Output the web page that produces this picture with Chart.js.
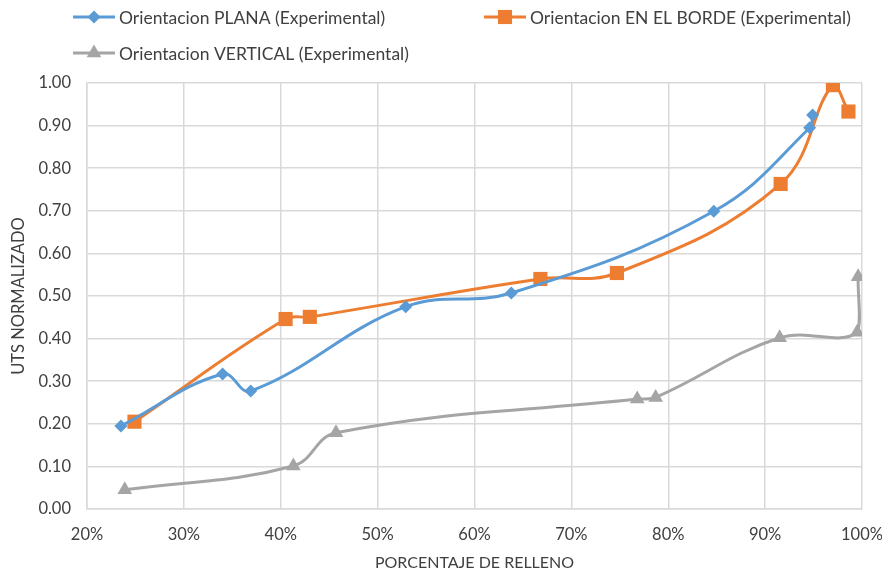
<!DOCTYPE html>
<html>
<head>
<meta charset="utf-8">
<script src="https://cdn.jsdelivr.net/npm/chart.js@4/dist/chart.umd.min.js"></script>
<style>
  html, body { margin: 0; padding: 0; background: #ffffff; }
  #wrap { width: 882px; height: 576px; position: relative; }
</style>
</head>
<body>
<div id="wrap"><canvas id="c"></canvas></div>
<script>
// Porcentaje de relleno (%) y UTS normalizado por orientación de impresión
const planaX = [23.5, 34.0, 36.9, 52.9, 63.8, 84.7, 94.6, 94.9];
const planaY = [0.195, 0.317, 0.277, 0.475, 0.507, 0.699, 0.895, 0.925];

const bordeX = [24.9, 40.5, 43.0, 66.8, 74.7, 91.6, 97.0, 98.6];
const bordeY = [0.205, 0.446, 0.451, 0.540, 0.554, 0.763, 0.995, 0.933];

const verticalX = [23.9, 41.3, 45.7, 76.8, 78.7, 91.5, 99.5, 99.6];
const verticalY = [0.045, 0.101, 0.179, 0.258, 0.262, 0.402, 0.415, 0.545];

const seriesNames = [
  'Orientacion PLANA (Experimental)',
  'Orientacion EN EL BORDE (Experimental)',
  'Orientacion VERTICAL (Experimental)'
];

const xTicks = [20, 30, 40, 50, 60, 70, 80, 90, 100];
const yTicks = [0, 0.1, 0.2, 0.3, 0.4, 0.5, 0.6, 0.7, 0.8, 0.9, 1.0];

const FONT = 'Lato, "Open Sans", sans-serif';
const TEXT = '#404040';
const GRID = '#d9d9d9';

function toPoints(xs, ys) {
  return xs.map((x, i) => ({ x: x, y: ys[i] }));
}

function makeSeries(label, xs, ys, color, style, radius) {
  return {
    label: label,
    data: toPoints(xs, ys),
    borderColor: color,
    backgroundColor: color,
    borderWidth: 3,
    pointStyle: style,
    pointRadius: radius,
    pointHoverRadius: radius,
    pointBorderWidth: 0,
    tension: 0.4,
    showLine: true,
    fill: false
  };
}

// Two-row legend laid out at fixed slots above the plot
const rowLegend = {
  id: 'rowLegend',
  afterDraw(chart, args, opts) {
    const ctx = chart.ctx;
    ctx.save();
    ctx.font = opts.font;
    ctx.textBaseline = 'middle';
    ctx.textAlign = 'left';
    chart.data.datasets.forEach((ds, i) => {
      const slot = opts.slots[i];
      const x0 = slot.x, y = slot.y;
      ctx.strokeStyle = ds.borderColor;
      ctx.lineWidth = 3;
      ctx.beginPath();
      ctx.moveTo(x0, y);
      ctx.lineTo(x0 + opts.lineLength, y);
      ctx.stroke();
      ctx.fillStyle = ds.backgroundColor;
      ctx.strokeStyle = ds.borderColor;
      ctx.lineWidth = 0;
      const cx = x0 + opts.lineLength / 2;
      if (Chart.helpers && Chart.helpers.drawPoint) {
        Chart.helpers.drawPoint(ctx, { pointStyle: ds.pointStyle, radius: ds.pointRadius, rotation: 0, borderWidth: 0 }, cx, y);
      }
      ctx.fillStyle = opts.color;
      ctx.fillText(ds.label, x0 + opts.lineLength + 4, y + 1);
    });
    ctx.restore();
  }
};

new Chart(document.getElementById('c'), {
  type: 'scatter',
  data: {
    datasets: [
      makeSeries(seriesNames[0], planaX, planaY, '#5b9bd5', 'rectRot', 6.5),
      makeSeries(seriesNames[1], bordeX, bordeY, '#ed7d31', 'rect', 10),
      makeSeries(seriesNames[2], verticalX, verticalY, '#a5a5a5', 'triangle', 8.5)
    ]
  },
  options: {
    responsive: true,
    maintainAspectRatio: false,
    animation: false,
    layout: { padding: { top: 83, right: 20, bottom: 0, left: 0 } },
    plugins: {
      legend: { display: false },
      tooltip: { enabled: false },
      rowLegend: {
        font: '17.5px ' + FONT,
        color: TEXT,
        lineLength: 42,
        slots: [ { x: 73, y: 17 }, { x: 484, y: 17 }, { x: 73, y: 53 } ]
      }
    },
    scales: {
      x: {
        type: 'linear',
        min: 20,
        max: 100,
        afterBuildTicks(scale) { scale.ticks = xTicks.map(v => ({ value: v })); },
        afterFit(scale) {
          scale.height = 576 - 509;
          scale.paddingLeft = 0;
          scale.paddingRight = 0;
        },
        ticks: {
          font: { family: FONT, size: 16.5 },
          color: TEXT,
          padding: 16,
          maxRotation: 0,
          autoSkip: false,
          callback: v => v + '%'
        },
        grid: { color: GRID, lineWidth: 1.5, drawTicks: false },
        border: { color: GRID, width: 1.5 },
        title: {
          display: true,
          text: 'PORCENTAJE DE RELLENO',
          font: { family: FONT, size: 16 },
          color: TEXT,
          padding: { top: 6, bottom: 4 }
        }
      },
      y: {
        type: 'linear',
        min: 0,
        max: 1,
        afterBuildTicks(scale) { scale.ticks = yTicks.map(v => ({ value: v })); },
        afterFit(scale) {
          scale.width = 87;
          scale.paddingTop = 0;
          scale.paddingBottom = 0;
        },
        ticks: {
          font: { family: FONT, size: 16.5 },
          color: TEXT,
          padding: 16,
          autoSkip: false,
          callback: v => v.toFixed(2)
        },
        grid: { color: GRID, lineWidth: 1.5, drawTicks: false },
        border: { color: GRID, width: 1.5 },
        title: {
          display: true,
          text: 'UTS NORMALIZADO',
          font: { family: FONT, size: 16.5 },
          color: TEXT,
          padding: { top: 9, bottom: 4 }
        }
      }
    }
  },
  plugins: [rowLegend]
});
</script>
</body>
</html>
